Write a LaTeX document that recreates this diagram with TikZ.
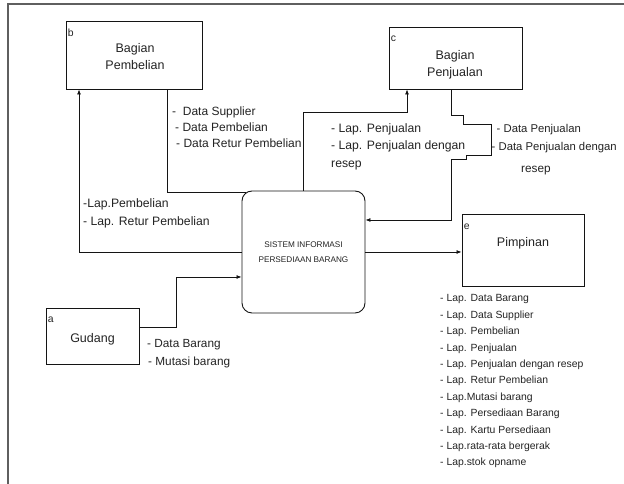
\documentclass[tikz,border=0pt]{standalone}
\usepackage{fontspec}
\setmainfont{Liberation Sans}
\usepackage{tikz}
\usepackage{xcolor}
\usetikzlibrary{positioning, arrows.meta}
\definecolor{dfdframe}{RGB}{95, 95, 95}
\definecolor{dfdtext}{RGB}{35, 35, 35}
\definecolor{dfdline}{RGB}{20, 20, 20}
\tikzset{
    extnode/.style={rectangle, draw=dfdline, line width=0.9pt, inner sep=0pt},
    sysnode/.style={rectangle, rounded corners=10pt, draw=dfdline, line width=0.9pt, inner sep=0pt, minimum width=123pt, minimum height=122pt, align=center, text=dfdtext, font=\fontsize{8.2}{14.5}\selectfont},
    extname/.style={inner sep=0pt, align=center, text=dfdtext, font=\fontsize{12.5}{17}\selectfont},
    extid/.style={inner sep=0pt, anchor=north west, text height=7.5pt, text depth=0pt, text=dfdtext, font=\fontsize{10.4}{12}\selectfont},
    flowtext/.style={inner sep=0pt, anchor=north west, align=left, text=dfdtext, font=\fontsize{12.2}{17.5}\selectfont},
    flowline/.style={draw=dfdline, line width=0.8pt},
    flowarrow/.style={flowline, -{Latex[length=5pt,width=4pt]}}
}
\begin{document}
\begin{tikzpicture}[x=1pt, y=1pt]
    \useasboundingbox (0,0) rectangle (624,484);
    \draw[dfdframe, line width=1.5pt] (7,480) -- (624,480);
    \draw[dfdframe, line width=1.5pt] (8,480) -- (8,0);

    \node[extnode, minimum width=136pt, minimum height=68pt] (pembelian) at (134,429) {};
    \node[extid] (pembelianid) at ([xshift=2pt,yshift=-8pt]pembelian.north west) {b};
    \node[extname] (pembeliantitle) at (135,427) {Bagian\\Pembelian};

    \node[extnode, minimum width=133pt, minimum height=62pt] (penjualan) at (455.5,426) {};
    \node[extid] (penjualanid) at ([xshift=2pt,yshift=-7pt]penjualan.north west) {c};
    \node[extname] (penjualantitle) at (455,419) {Bagian\\Penjualan};

    \node[extnode, minimum width=122pt, minimum height=72pt] (pimpinan) at (523,234) {};
    \node[extid] (pimpinanid) at ([xshift=2pt,yshift=-8pt]pimpinan.north west) {e};
    \node[extname] (pimpinantitle) at (523,241) {Pimpinan};

    \node[extnode, minimum width=93pt, minimum height=56pt] (gudang) at (92.5,148) {};
    \node[extid] (gudangid) at ([xshift=2pt,yshift=-7pt]gudang.north west) {a};
    \node[extname] (gudangtitle) at (92.5,145) {Gudang};

    \node[sysnode] (sistem) at (303.5,232) {SISTEM INFORMASI\\PERSEDIAAN BARANG};

    \draw[flowline] ([xshift=33pt]pembelian.south) |- ([xshift=4pt,yshift=-2pt]sistem.north west);
    \draw[flowarrow] (sistem.north) -- ++(0,78) -| ([xshift=-48.5pt]penjualan.south);
    \draw[flowarrow] ([xshift=-4.5pt]penjualan.south) -- ++(0,-26) -- ++(12,0) -- ++(0,-9) -- ++(28,0) -- ++(0,-31) -- ++(-25,0) -- ++(0,-4) -- ++(-15,0) |- ([yshift=32pt]sistem.east);
    \draw[flowarrow] (sistem.west) -| ([xshift=-55pt]pembelian.south);
    \draw[flowarrow] ([yshift=9pt]gudang.east) -- ++(37,0) |- ([yshift=-25pt]sistem.west);
    \draw[flowarrow] (sistem.east) -- (sistem.east -| pimpinan.west);

    \node[flowtext, font=\fontsize{12}{16}\selectfont] (datasupplier) at (172,377) {-\ \ Data Supplier\\\hspace{3pt}- Data Pembelian\\\hspace{4pt}- Data Retur Pembelian};
    \node[flowtext] (lappenjualan) at (331,361) {- Lap. Penjualan\\- Lap. Penjualan dengan\\resep};
    \node[flowtext, font=\fontsize{11.3}{18}\selectfont] (datapenjualan) at (491.5,360) {\hspace{5pt}- Data Penjualan\\- Data Penjualan dengan};
    \node[inner sep=0pt, anchor=base west, text=dfdtext, font=\fontsize{11.8}{14}\selectfont] (datapenjualanresep) at (521,311) {resep};
    \node[flowtext, font=\fontsize{12.2}{18}\selectfont] (lappembelian) at (83,286) {-Lap.Pembelian\\- Lap. Retur Pembelian};
    \node[flowtext, font=\fontsize{11.8}{18.5}\selectfont] (databarang) at (147,145) {- Data Barang\\\hspace{1pt}- Mutasi barang};
    \node[flowtext, font=\fontsize{10.4}{16.4}\selectfont] (laporan) at (440,189.5) {- Lap. Data Barang\\- Lap. Data Supplier\\- Lap. Pembelian\\- Lap. Penjualan\\- Lap. Penjualan dengan resep\\- Lap. Retur Pembelian\\- Lap.Mutasi barang\\- Lap. Persediaan Barang\\- Lap. Kartu Persediaan\\- Lap.rata-rata bergerak\\- Lap.stok opname};
\end{tikzpicture}
\end{document}
